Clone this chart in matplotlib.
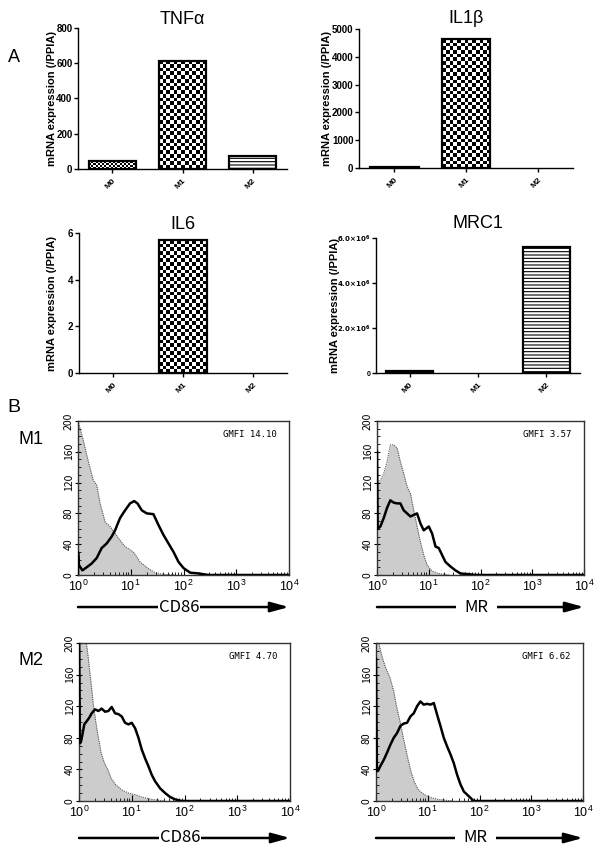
import matplotlib
matplotlib.use('Agg')
import matplotlib.pyplot as plt
import numpy as np
from matplotlib.ticker import (MultipleLocator, FuncFormatter,
                               LogLocator, NullFormatter)

plt.rcParams.update({
    'font.family': ['Liberation Sans', 'DejaVu Sans'],
    'hatch.linewidth': 0.8,
    'figure.facecolor': 'white',
})

# ---- panel A: mRNA expression (/PPIA) ----
CELLS = ['M0', 'M1', 'M2']
TNFA = [45, 615, 75]
IL1B = [25, 4640, 0]
IL6 = [0, 5.7, 0]
MRC1 = [1.0e5, 0, 5.6e6]

# ---- panel B: flow histograms, fluorescence vs. count ----
# isotype (grey, filled) and stained (black line)
M1_CD86_ISO_X = [1.0, 1.26, 1.46, 1.69, 1.95, 2.26, 2.62, 3.26, 4.05, 5.04, 6.27,
                 7.80, 11.2, 15.0, 20.1, 26.9, 38.8, 69.5]
M1_CD86_ISO_Y = [200, 175, 156, 139, 123, 117, 93, 69, 63, 54, 45, 37, 30, 17, 10,
                 4, 1, 0]
M1_CD86_X = [1.0, 1.0, 1.04, 1.21, 1.46, 1.82, 2.26, 2.81, 3.50, 4.36, 5.04, 6.27,
             7.80, 9.71, 11.6, 13.4, 16.2, 20.1, 26.9, 33.5, 41.7, 51.9, 64.6, 80.4,
             100, 134, 193, 240, 298, 10000]
M1_CD86_Y = [0, 30, 13, 6, 10, 15, 22, 35, 41, 50, 58, 74, 84, 93, 96, 93, 84, 80,
             79, 65, 52, 41, 30, 17, 9, 3, 2, 1, 0, 0]

M1_MR_ISO_X = [1.0, 1.16, 1.35, 1.56, 1.81, 2.10, 2.44, 2.83, 3.28, 3.81, 4.42,
               5.13, 5.94, 6.90, 8.00, 9.29, 11.6, 15.6, 24.4]
M1_MR_ISO_Y = [117, 123, 132, 147, 169, 169, 165, 147, 132, 115, 106, 84, 63, 43,
               26, 13, 5, 2, 0]
M1_MR_X = [1.0, 1.03, 1.16, 1.35, 1.56, 1.81, 2.10, 2.44, 2.83, 3.28, 3.81, 4.42,
           5.13, 5.94, 6.90, 8.00, 10.0, 11.6, 13.5, 15.6, 18.1, 21.0, 26.3, 32.8,
           41.0, 59.4, 80.0, 10000]
M1_MR_Y = [160, 60, 63, 74, 87, 97, 94, 93, 93, 84, 80, 76, 78, 80, 67, 58, 63, 54,
           37, 35, 26, 17, 11, 6, 2, 1, 0, 0]

M2_CD86_ISO_X = [1.0, 1.38, 1.50, 1.68, 1.87, 2.07, 2.33, 2.62, 3.03, 3.50, 4.05,
                 4.9, 6.5, 8.7, 11.6, 15.5, 24.0, 43.0]
M2_CD86_ISO_Y = [260, 200, 181, 151, 122, 101, 80, 61, 48, 40, 29, 21, 14, 10, 8,
                 5, 2, 0]
M2_CD86_X = [1.0, 1.04, 1.09, 1.16, 1.26, 1.40, 1.55, 1.74, 2.01, 2.33, 2.69, 3.12,
             3.61, 4.17, 4.83, 5.58, 6.46, 7.47, 8.65, 10.0, 11.6, 13.4, 15.5, 17.9,
             20.7, 24.0, 27.7, 34.5, 43.0, 53.5, 66.5, 89.0, 10000]
M2_CD86_Y = [230, 73, 75, 84, 97, 101, 105, 111, 116, 114, 117, 113, 114, 119, 111,
             110, 107, 99, 97, 99, 92, 80, 65, 54, 44, 33, 25, 16, 10, 5, 2, 0, 0]

M2_MR_ISO_X = [1.0, 1.13, 1.33, 1.55, 1.86, 2.2, 2.45, 2.9, 3.37, 3.92, 4.7, 5.5,
               6.6, 8.2, 10.5, 16.0, 30.0]
M2_MR_ISO_Y = [230, 200, 181, 168, 156, 139, 122, 101, 80, 60, 38, 24, 14, 9, 5,
               2, 0]
M2_MR_X = [1.0, 1.04, 1.09, 1.21, 1.41, 1.63, 1.89, 2.20, 2.55, 2.96, 3.43, 3.98,
           4.62, 5.36, 6.22, 7.21, 8.37, 9.70, 11.3, 13.1, 15.2, 17.6, 20.4, 23.7,
           27.5, 31.8, 37.0, 42.9, 49.8, 57.7, 67.0, 77.6, 10000]
M2_MR_Y = [180, 38, 38, 44, 52, 61, 71, 80, 86, 95, 98, 99, 107, 111, 120, 126, 122,
           123, 122, 124, 109, 95, 80, 69, 59, 48, 33, 21, 12, 8, 4, 0, 0]

W, H = 600, 847
fig = plt.figure(figsize=(W / 100, H / 100), dpi=100)


def px_axes(x0, y0, x1, y1):
    return fig.add_axes([x0 / W, 1 - y1 / H, (x1 - x0) / W, (y1 - y0) / H])


def checker(ax, bar, cell):
    # checkerboard fill sized in pixels, like the GraphPad pattern
    x0, y0 = ax.transData.transform((bar.get_x(), 0))
    x1, y1 = ax.transData.transform((bar.get_x() + bar.get_width(), bar.get_height()))
    ncol = max(1, int(round((x1 - x0) / cell)))
    nrow = max(1, int(round((y1 - y0) / cell)))
    board = np.indices((nrow, ncol)).sum(axis=0) % 2
    ax.imshow(board, cmap='gray', interpolation='nearest', aspect='auto',
              origin='lower', zorder=1,
              extent=(bar.get_x(), bar.get_x() + bar.get_width(), 0, bar.get_height()))


def bar_panel(rect, values, title, ymax, ystep, label_x, title_pad, fmt=None,
              ytick_size=7):
    ax = px_axes(*rect)
    x = np.arange(len(CELLS))
    ax.set_xlim(-0.49, len(CELLS) - 0.51)
    ax.set_ylim(0, ymax)
    for i, v in enumerate(values):
        if v <= 0:
            continue
        if i == 2:
            ax.bar(x[i], v, 0.68, facecolor='white', edgecolor='black',
                   hatch='-----', linewidth=1.6, zorder=2)
        else:
            b = ax.bar(x[i], v, 0.68, facecolor='none', edgecolor='black',
                       linewidth=1.6, zorder=2)[0]
            checker(ax, b, 2.2 if i == 0 else 3.7)
    ax.set_xlim(-0.49, len(CELLS) - 0.51)
    ax.set_ylim(0, ymax)
    ax.set_xticks(x)
    ax.set_xticklabels(CELLS, rotation=45, ha='right', rotation_mode='anchor',
                       fontsize=6, fontweight='bold')
    ax.yaxis.set_major_locator(MultipleLocator(ystep))
    if fmt is not None:
        ax.yaxis.set_major_formatter(FuncFormatter(fmt))
    for lab in ax.get_yticklabels():
        lab.set_fontweight('bold')
    ax.tick_params(axis='y', labelsize=ytick_size, length=3, width=1, pad=1)
    ax.tick_params(axis='x', length=3, width=1, pad=3)
    for s in ('top', 'right'):
        ax.spines[s].set_visible(False)
    for s in ('left', 'bottom'):
        ax.spines[s].set_linewidth(1.0)
    ax.set_ylabel('mRNA expression (/PPIA)', fontsize=8, fontweight='bold')
    ax.yaxis.set_label_coords(label_x, 0.5)
    ax.set_title(title, fontsize=13, pad=title_pad,
                 family=['Liberation Sans Narrow', 'Liberation Sans'])
    return ax


def sci6(v, pos):
    if v == 0:
        return '0'
    return r'$\mathbf{%.1f{\times}10^{6}}$' % (v / 1e6)


bar_panel((78, 28, 287, 169), TNFA, 'TNFα', 800, 200, -0.10, 3)
bar_panel((359, 29, 573, 168), IL1B, 'IL1β', 5000, 1000, -0.126, 4)
bar_panel((79, 233, 287, 373), IL6, 'IL6', 6, 2, -0.106, 3)
bar_panel((376, 238, 580, 373), MRC1, 'MRC1', 6e6, 2e6, -0.175, 7, fmt=sci6,
          ytick_size=5)


def flow_panel(rect, iso_x, iso_y, st_x, st_y, gmfi, marker, arrow_y, gap):
    ax = px_axes(*rect)
    ax.fill_between(iso_x, iso_y, color='#cccccc', linewidth=0, zorder=1)
    ax.plot(iso_x, iso_y, color='#555555', lw=0.8, ls=(0, (1, 1)), zorder=2)
    ax.plot(st_x, st_y, color='black', lw=1.8, zorder=3)
    ax.set_xscale('log')
    ax.set_xlim(1, 1e4)
    ax.set_ylim(0, 200)
    ax.xaxis.set_major_locator(LogLocator(base=10, numticks=10))
    ax.xaxis.set_minor_locator(LogLocator(base=10, subs=np.arange(2, 10), numticks=10))
    ax.xaxis.set_minor_formatter(NullFormatter())
    ax.yaxis.set_major_locator(MultipleLocator(40))
    ax.yaxis.set_minor_locator(MultipleLocator(10))
    ax.tick_params(axis='x', which='major', direction='in', length=4, labelsize=9, pad=3)
    ax.tick_params(axis='x', which='minor', direction='in', length=2.5)
    ax.tick_params(axis='y', which='major', direction='inout', length=4, labelsize=7.5,
                   labelrotation=90, pad=1)
    ax.tick_params(axis='y', which='minor', direction='in', length=2.5)
    for lab in ax.get_yticklabels():
        lab.set_va('center')
        lab.set_family(['Noto Sans CJK JP', 'DejaVu Sans'])
    for s in ax.spines.values():
        s.set_linewidth(1.0)
        s.set_color('#333333')
    ax.text(0.94, 0.94, gmfi, transform=ax.transAxes, ha='right', va='top',
            fontsize=6.5, family='DejaVu Sans Mono')
    ax.annotate('', xy=(1.0, arrow_y), xytext=(0.0, arrow_y), xycoords='axes fraction',
                annotation_clip=False,
                arrowprops=dict(arrowstyle='-|>,head_length=1.1,head_width=0.3',
                                lw=1.8, color='black', shrinkA=0, shrinkB=0))
    ax.text(0.48, arrow_y, marker, transform=ax.transAxes, ha='center', va='center',
            fontsize=12, family=['Noto Sans CJK JP', 'DejaVu Sans'],
            bbox=dict(boxstyle='square,pad=%.2f' % gap, facecolor='white',
                      edgecolor='none'))
    return ax


flow_panel((78, 421, 289, 575), M1_CD86_ISO_X, M1_CD86_ISO_Y, M1_CD86_X, M1_CD86_Y,
           'GMFI 14.10', 'CD86', -0.208, 0.05)
flow_panel((377, 421, 584, 575), M1_MR_ISO_X, M1_MR_ISO_Y, M1_MR_X, M1_MR_Y,
           'GMFI 3.57', 'MR', -0.208, 0.5)
flow_panel((79, 643, 290, 801), M2_CD86_ISO_X, M2_CD86_ISO_Y, M2_CD86_X, M2_CD86_Y,
           'GMFI 4.70', 'CD86', -0.234, 0.05)
flow_panel((376, 643, 583, 801), M2_MR_ISO_X, M2_MR_ISO_Y, M2_MR_X, M2_MR_Y,
           'GMFI 6.62', 'MR', -0.234, 0.5)

fig.text(14 / W, 1 - 57 / H, 'A', fontsize=13, ha='center', va='center')
fig.text(14 / W, 1 - 407 / H, 'B', fontsize=14, ha='center', va='center')
fig.text(31 / W, 1 - 440 / H, 'M1', fontsize=13, ha='center', va='center',
         family=['Liberation Sans Narrow', 'Liberation Sans'])
fig.text(31 / W, 1 - 660 / H, 'M2', fontsize=13, ha='center', va='center',
         family=['Liberation Sans Narrow', 'Liberation Sans'])

fig.savefig('out.png', dpi=100)
